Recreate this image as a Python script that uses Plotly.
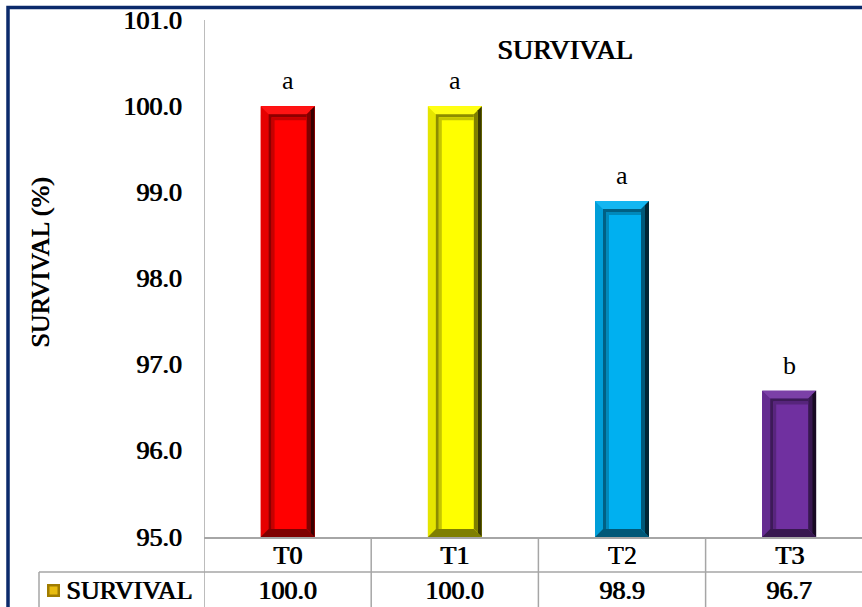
import plotly.graph_objects as go

# ---- data ----
treatments = ["T0", "T1", "T2", "T3"]
survival = [100.0, 100.0, 98.9, 96.7]
letters = ["a", "a", "a", "b"]
bar_colors = ["#FF0000", "#FFFF00", "#00B0F0", "#7030A0"]
y_ticks = [95, 96, 97, 98, 99, 100, 101]
series_name = "SURVIVAL"
chart_title = "SURVIVAL"
y_title = "SURVIVAL (%)"

# ---- geometry (pixels) ----
W, H = 862, 607
ML, MR, MT, MB = 204, 0, 20, 70
plot_w = W - ML - MR
plot_h = H - MT - MB
cat_px = 167.2                       # width of one category slot
x_lo = -0.5
x_hi = x_lo + plot_w / cat_px        # last slot runs past the right edge
y_lo, y_hi = y_ticks[0], y_ticks[-1]
px_y = plot_h / (y_hi - y_lo)
bar_w = 0.323

FONT = "Liberation Serif"
GRID = "#A6A6A6"
FRAME = "#0B2A6B"
TXT = 26


def pxx(p):
    return (p - ML) / plot_w


def pxy(p):
    return (H - MB - p) / plot_h


def shade(hex_color, f):
    h = hex_color.lstrip("#")
    r, g, b = (int(h[i:i + 2], 16) for i in (0, 2, 4))
    if f <= 1:
        r, g, b = (int(c * f) for c in (r, g, b))
    else:
        t = f - 1
        r, g, b = (int(c + (255 - c) * t) for c in (r, g, b))
    return "#%02X%02X%02X" % (r, g, b)


def poly(pts, color):
    d = "M " + " L ".join(f"{x},{y}" for x, y in pts) + " Z"
    return dict(type="path", path=d, xref="x", yref="y",
                fillcolor=color, line=dict(width=0), layer="above")


def heavy(ann_list, rotated=False, **kw):
    """Heavy serif label: the regular face laid down twice, a hair apart."""
    size = kw.pop("size", TXT)
    for k, d in enumerate((0.0, 0.9)):
        a = dict(kw, showarrow=False,
                 font=dict(family=FONT, size=size, color="#000000"))
        if rotated:
            a["yshift"] = d
        else:
            a["xshift"] = d
        ann_list.append(a)


fig = go.Figure()
fig.add_trace(go.Bar(
    x=list(range(len(treatments))), y=survival, width=bar_w,
    marker=dict(color=bar_colors, line=dict(width=0)),
    name=series_name, showlegend=False, hoverinfo="skip",
))

shapes = []
bx = 8 / cat_px
by = 8 / px_y
sx = 3 / cat_px
sy = 3 / px_y
for i, (v, c) in enumerate(zip(survival, bar_colors)):
    x0, x1 = i - bar_w / 2, i + bar_w / 2
    y0, y1 = y_lo, v
    ix0, ix1, iy0, iy1 = x0 + bx, x1 - bx, y0 + by, y1 - by
    # left rim
    shapes.append(poly([(x0, y0), (x0, y1), (ix0, iy1), (ix0, iy0)], shade(c, 0.9)))
    # top rim
    shapes.append(poly([(x0, y1), (x1, y1), (ix1, iy1), (ix0, iy1)], shade(c, 1.08)))
    # bottom rim
    shapes.append(poly([(x0, y0), (x1, y0), (ix1, iy0), (ix0, iy0)], shade(c, 0.5)))
    # right rim, two bands darkening outward
    mx, my1, my0 = x1 - bx / 2, y1 - by / 2, y0 + by / 2
    shapes.append(poly([(mx, my0), (mx, my1), (ix1, iy1), (ix1, iy0)], shade(c, 0.5)))
    shapes.append(poly([(x1, y0), (x1, y1), (mx, my1), (mx, my0)], shade(c, 0.22)))
    # inner shadow along the top and left of the face
    shapes.append(poly([(ix0, iy0), (ix0, iy1), (ix1, iy1), (ix1, iy1 - sy),
                        (ix0 + sx, iy1 - sy), (ix0 + sx, iy0)], shade(c, 0.55)))
    shapes.append(poly([(ix0 + sx, iy0), (ix0 + sx, iy1 - sy), (ix1, iy1 - sy),
                        (ix1, iy1 - 2 * sy), (ix0 + 2 * sx, iy1 - 2 * sy),
                        (ix0 + 2 * sx, iy0)], shade(c, 0.78)))

# data table grid
row1_bot = pxy(572)
tbl_bot = pxy(H + 5)
for k in range(len(treatments)):
    xb = k - 0.5
    y_top = 1 if k == 0 else 0
    shapes.append(dict(type="line", xref="x", yref="paper", x0=xb, x1=xb,
                       y0=tbl_bot, y1=y_top, line=dict(color=GRID, width=1.5)))
shapes.append(dict(type="line", xref="paper", yref="paper", x0=pxx(39), x1=1,
                   y0=row1_bot, y1=row1_bot, line=dict(color=GRID, width=1.5)))
shapes.append(dict(type="line", xref="paper", yref="paper", x0=pxx(39), x1=pxx(39),
                   y0=tbl_bot, y1=row1_bot, line=dict(color=GRID, width=1.5)))

# legend key in the table
shapes.append(dict(type="rect", xref="paper", yref="paper",
                   x0=pxx(47), x1=pxx(60), y0=pxy(597), y1=pxy(584),
                   fillcolor="#A07C00", line=dict(width=0)))
shapes.append(dict(type="rect", xref="paper", yref="paper",
                   x0=pxx(49.5), x1=pxx(57.5), y0=pxy(594.5), y1=pxy(586.5),
                   fillcolor="#E8BC10", line=dict(width=0)))

# outer frame
shapes.append(dict(type="rect", xref="paper", yref="paper",
                   x0=pxx(8), x1=pxx(W + 20), y0=pxy(H + 20), y1=pxy(7.5),
                   fillcolor="rgba(0,0,0,0)", line=dict(color=FRAME, width=3.5)))

annotations = []
# significance letters
for i, (v, t) in enumerate(zip(survival, letters)):
    annotations.append(dict(x=i, y=v, xref="x", yref="y", text=t, showarrow=False,
                            yanchor="bottom", yshift=9,
                            font=dict(family=FONT, size=26, color="#000000")))
# y tick labels
for t in y_ticks:
    heavy(annotations, x=pxx(184), y=t, xref="paper", yref="y", text=f"{t:.1f}",
          xanchor="right", yanchor="middle")
# chart title
heavy(annotations, x=pxx(565), y=pxy(49), xref="paper", yref="paper",
      text=chart_title, xanchor="center", yanchor="middle", size=28)
# table rows
for i, (cat, v) in enumerate(zip(treatments, survival)):
    heavy(annotations, x=i, y=pxy(555), xref="x", yref="paper", text=cat,
          yanchor="middle")
    heavy(annotations, x=i, y=pxy(590), xref="x", yref="paper", text=f"{v:.1f}",
          yanchor="middle")
heavy(annotations, x=pxx(64), y=pxy(590), xref="paper", yref="paper",
      text=series_name, xanchor="left", yanchor="middle")
# y-axis title
heavy(annotations, rotated=True, x=pxx(40), y=pxy(263), xref="paper", yref="paper",
      text=y_title, textangle=-90, xanchor="center", yanchor="middle")

fig.update_layout(
    width=W, height=H,
    margin=dict(l=ML, r=MR, t=MT, b=MB, pad=0),
    paper_bgcolor="#FFFFFF", plot_bgcolor="#FFFFFF",
    font=dict(family=FONT, color="#000000"),
    xaxis=dict(range=[x_lo, x_hi], showticklabels=False, showgrid=False,
               zeroline=False, showline=True, linecolor=GRID, linewidth=1.5,
               ticks="", fixedrange=True),
    yaxis=dict(range=[y_lo, y_hi], tickvals=y_ticks, showticklabels=False,
               showgrid=False, zeroline=False, showline=False, ticks=""),
    shapes=shapes, annotations=annotations, showlegend=False,
    bargap=0,
)

fig.write_html("out.html")
